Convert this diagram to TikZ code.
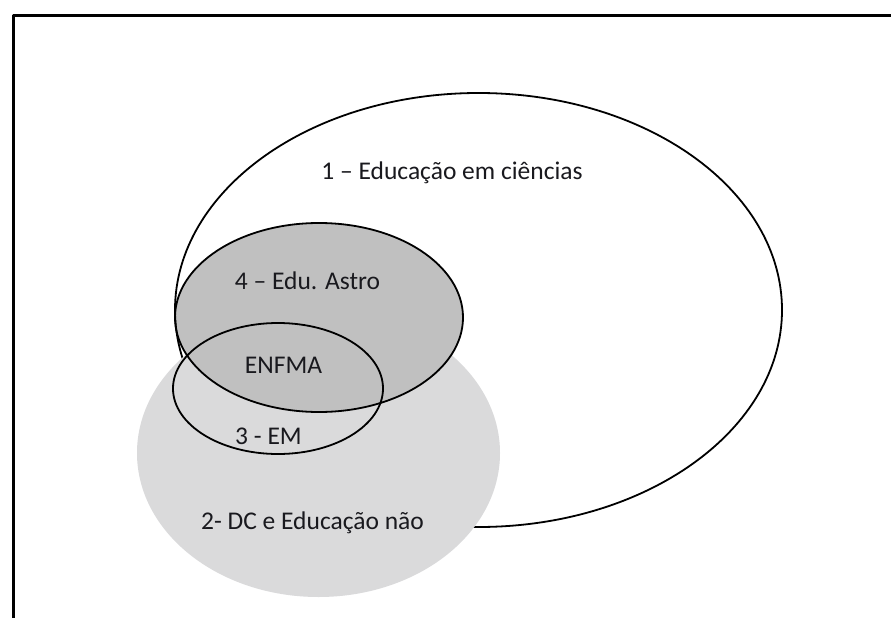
\documentclass[tikz,border=0pt]{standalone}
\usepackage{fontspec}
\setmainfont{Carlito}
\definecolor{lightg}{RGB}{218,218,219}
\definecolor{darkg}{RGB}{192,192,192}
\definecolor{txt}{RGB}{25,25,30}
\begin{document}
\begin{tikzpicture}[x=1pt,y=-1pt,
  ell/.style={line width=1.8pt, draw=black},
  lbl/.style={font=\fontsize{25.5}{28}\selectfont, text=txt, inner sep=0pt}]
\useasboundingbox (0,0) rectangle (891,618);
\fill[white] (0,0) rectangle (891,618);
% frame (top and left edges visible)
\draw[line width=3pt, line join=round] (13,640) -- (13,16) -- (900,16);
% ellipse 1
\draw[ell] (478.5,310) ellipse [x radius=303.5, y radius=217];
% ellipse 2 (filled)
\fill[lightg] (318.5,453) ellipse [x radius=181.5, y radius=144];
% ellipse 4 fill
\fill[darkg] (319,317.5) ellipse [x radius=144, y radius=94.5];
% ellipse 1 visible through ellipse 4
\begin{scope}
  \clip (0,0) rectangle (891,362);
  \clip (319,317.5) ellipse [x radius=144, y radius=94.5];
  \draw[ell] (478.5,310) ellipse [x radius=303.5, y radius=217];
\end{scope}
% ellipse 4 outline
\draw[ell] (319,317.5) ellipse [x radius=144, y radius=94.5];
% ellipse 3 outline
\draw[ell] (278,388.5) ellipse [x radius=105, y radius=65.5];
% labels
\node[lbl] (l1) at (452,173) {1 – Educação em ciências};
\node[lbl] (l4) at (307.5,281) {4 – Edu. Astro};
\node[lbl] (l5) at (283.5,365) {ENFMA};
\node[lbl] (l3) at (268.5,436) {3 - EM};
\node[lbl] (l2) at (312.5,523) {2- DC e Educação não};
\end{tikzpicture}
\end{document}
